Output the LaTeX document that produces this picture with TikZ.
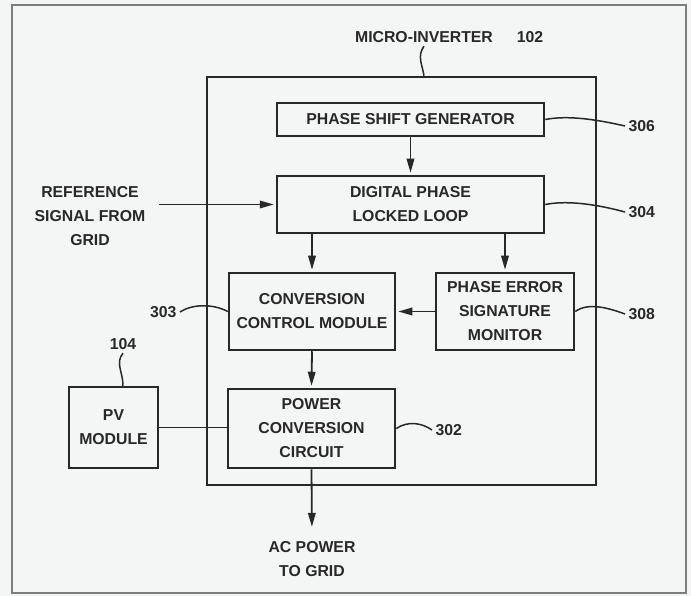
\documentclass[tikz,border=0pt]{standalone}
\usepackage{fontspec}
\setmainfont{Liberation Sans}
\usetikzlibrary{arrows.meta}
\definecolor{ink}{RGB}{40,40,40}
\definecolor{paper}{RGB}{244,245,245}
\definecolor{rim}{RGB}{125,125,125}

\begin{document}
\begin{tikzpicture}[
    x=1pt, y=-1pt,
    font=\fontsize{15.8}{24}\selectfont\bfseries,
    blk/.style={rectangle, draw=ink, line width=2.5pt, align=center, text=ink, inner sep=0pt},
    txt/.style={align=center, text=ink},
    arr/.style={-{Stealth[length=14pt, width=7.5pt, inset=0pt]}, draw=ink, line width=1.8pt, shorten >=2pt},
    wire/.style={draw=ink, line width=1.8pt},
    lead/.style={draw=ink, line width=1.5pt}
]
    % Sheet and frame
    \fill[paper] (0,0) rectangle (691,596);
    \useasboundingbox (0,0) rectangle (691,596);
    \draw[rim, line width=1.6pt] (12,5) rectangle (686,593);

    % Blocks using absolute coordinates
    \node[blk, minimum width=389pt, minimum height=408pt] (inv) at (401.5,281) {};
    \node[blk, minimum width=267pt, minimum height=33pt] (psg) at (410.5,119.5) {PHASE SHIFT GENERATOR};
    \node[blk, minimum width=267pt, minimum height=57pt] (dpll) at (410.5,204.5) {DIGITAL PHASE\\LOCKED LOOP};
    \node[blk, minimum width=166pt, minimum height=77pt] (ccm) at (312,311.5) {CONVERSION\\CONTROL MODULE};
    \node[blk, minimum width=138pt, minimum height=77pt] (pesm) at (505,311.5) {PHASE ERROR\\SIGNATURE\\MONITOR};
    \node[blk, minimum width=167pt, minimum height=79pt] (pcc) at (311.5,428.5) {POWER\\CONVERSION\\CIRCUIT};
    \node[blk, minimum width=89pt, minimum height=81pt] (pv) at (113.5,427.5) {PV\\MODULE};

    % Free texts
    \node[txt] (title) at (424,37) {MICRO-INVERTER};
    \node[txt] (n102) at (530,37) {102};
    \node[txt] (ref) at (90,216) {REFERENCE\\SIGNAL FROM\\GRID};
    \node[txt] (ac) at (312,559) {AC POWER\\TO GRID};
    \coordinate (refin) at (159,204.5);

    % Reference numerals
    \node[txt, anchor=west] (n306) at (625,126) {306};
    \node[txt, anchor=west] (n304) at (625,212) {304};
    \node[txt, anchor=west] (n308) at (625,314) {308};
    \node[txt, anchor=west] (n302) at (432,430) {302};
    \node[txt, anchor=east] (n303) at (180,312) {303};
    \node[txt] (n104) at (123,344) {104};

    % Signal paths
    \draw[arr] (refin) -- (dpll.west);
    \draw[arr] (psg.south) -- (psg.south |- dpll.north);
    \draw[arr] (dpll.south -| ccm.north) -- (ccm.north);
    \draw[arr] (dpll.south -| pesm.north) -- (pesm.north);
    \draw[arr] (pesm.west) -- (pesm.west -| ccm.east);
    \draw[arr] (ccm.south) -- (pcc.north);
    \draw[wire] (pv.east) -- (pv.east -| pcc.west);
    \draw[arr, shorten >=11pt] (pcc.south) -- (ac.north);

    % Leader lines
    \draw[lead] (title.south) .. controls +(-7,10) and +(-2,-12) .. (inv.north -| title.south);
    \draw[lead] (psg.east) .. controls +(25,-5) and +(-22,-5) .. (n306.west);
    \draw[lead] (dpll.east) .. controls +(25,-5) and +(-22,-6) .. (n304.west);
    \draw[lead] (pesm.east) .. controls +(14,-10) and +(-14,-5) .. (n308.west);
    \draw[lead] (n303.east) .. controls +(12,-8) and +(-15,-8) .. (ccm.west);
    \draw[lead] (pcc.east) .. controls +(12,-8) and +(-10,-7) .. (n302.west);
    \draw[lead] (n104.south) .. controls +(-8,10) and +(0,-14) .. (pv.north -| n104.south);
\end{tikzpicture}
\end{document}
